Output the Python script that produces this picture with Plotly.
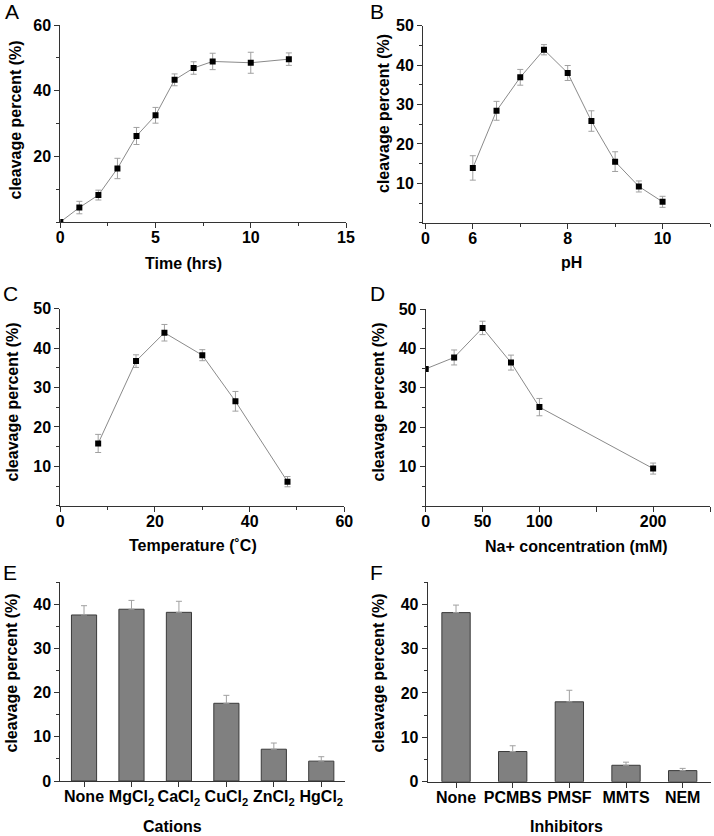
import plotly.graph_objects as go

# ---------------- data ----------------
time_hrs = [0, 1, 2, 3, 4, 5, 6, 7, 8, 10, 12]
time_val = [0, 4.4, 8.2, 16.3, 26.2, 32.5, 43.3, 46.9, 48.9, 48.5, 49.6]
time_err = [0, 1.9, 1.5, 3.1, 2.6, 2.4, 1.8, 1.9, 2.5, 3.2, 1.9]

ph = [6, 6.5, 7, 7.5, 8, 8.5, 9, 9.5, 10]
ph_val = [13.9, 28.4, 36.9, 43.9, 38.0, 25.8, 15.5, 9.2, 5.3]
ph_err = [3.1, 2.4, 2.0, 1.3, 1.9, 2.6, 2.5, 1.4, 1.4]

temp = [8, 16, 22, 30, 37, 48]
temp_val = [15.8, 36.7, 43.9, 38.2, 26.5, 6.1]
temp_err = [2.3, 1.6, 2.1, 1.4, 2.5, 1.3]

na = [0, 25, 50, 75, 100, 200]
na_val = [34.8, 37.7, 45.2, 36.4, 25.1, 9.5]
na_err = [0, 1.9, 1.7, 1.9, 2.2, 1.4]

cations = ["None", "MgCl<sub>2</sub>", "CaCl<sub>2</sub>", "CuCl<sub>2</sub>",
           "ZnCl<sub>2</sub>", "HgCl<sub>2</sub>"]
cation_val = [37.6, 38.9, 38.2, 17.6, 7.2, 4.5]
cation_err = [2.1, 2.0, 2.5, 1.8, 1.4, 1.0]

inhibitors = ["None", "PCMBS", "PMSF", "MMTS", "NEM"]
inhib_val = [38.1, 6.8, 18.0, 3.7, 2.5]
inhib_err = [1.7, 1.3, 2.6, 0.7, 0.5]

ph_tickvals = [5, 6, 8, 10]
ph_ticktext = ["0", "6", "8", "10"]
na_tickvals = [0, 50, 100, 200]
na_minor_ticks = [150, 250]

# ---------------- layout helpers ----------------
W, H = 714, 836
FONT = "Liberation Sans"
AX = "#333333"


def dx(a, b):
    return [a / W, b / W]


def dy(top, bottom):
    return [1 - bottom / H, 1 - top / H]


tickfont = dict(family=FONT, size=16, color="black", weight="bold")


def xaxis(domain, anchor, rng, **kw):
    d = dict(domain=domain, anchor=anchor, range=rng, showline=True, linecolor=AX,
             linewidth=1, ticks="outside", ticklen=5, tickwidth=1, tickcolor=AX,
             showgrid=False, zeroline=False, tickfont=tickfont, mirror=False,
             ticklabelstandoff=-4)
    d.update(kw)
    return d


def yaxis(domain, anchor, rng, dtick, minor_dtick, **kw):
    d = dict(domain=domain, anchor=anchor, range=rng, showline=True, linecolor=AX,
             linewidth=1, ticks="outside", ticklen=5, tickwidth=1, tickcolor=AX,
             showgrid=False, zeroline=False, tickfont=tickfont, dtick=dtick, tick0=0,
             minor=dict(ticks="outside", ticklen=3, tickcolor=AX, dtick=minor_dtick, tick0=0,
                        showgrid=False))
    d.update(kw)
    return d


line_style = dict(color="#8a8a8a", width=1)
marker_style = dict(symbol="square", size=6, color="black")
err_style = dict(type="data", color="#a0a0a0", thickness=1, width=3)

fig = go.Figure()


def add_line(x, y, e, xa, ya):
    fig.add_trace(go.Scatter(x=x, y=y, mode="lines+markers", line=line_style,
                             marker=marker_style,
                             error_y=dict(array=e, **err_style),
                             xaxis=xa, yaxis=ya, showlegend=False))


add_line(time_hrs, time_val, time_err, "x", "y")
add_line(ph, ph_val, ph_err, "x2", "y2")
add_line(temp, temp_val, temp_err, "x3", "y3")
add_line(na, na_val, na_err, "x4", "y4")

bar_style = dict(color="#808080", line=dict(color="#3a3a3a", width=1))
fig.add_trace(go.Bar(x=cations, y=cation_val, width=0.53, marker=bar_style,
                     error_y=dict(type="data", symmetric=False, array=cation_err,
                                  arrayminus=[0] * len(cation_err), color="#a0a0a0",
                                  thickness=1, width=3),
                     xaxis="x5", yaxis="y5", showlegend=False))
fig.add_trace(go.Bar(x=inhibitors, y=inhib_val, width=0.5, marker=bar_style,
                     error_y=dict(type="data", symmetric=False, array=inhib_err,
                                  arrayminus=[0] * len(inhib_err), color="#a0a0a0",
                                  thickness=1, width=3),
                     xaxis="x6", yaxis="y6", showlegend=False))

layout = dict(
    width=W, height=H, margin=dict(l=0, r=0, t=0, b=0, autoexpand=False),
    paper_bgcolor="white", plot_bgcolor="white", showlegend=False,
    xaxis=xaxis(dx(60.3, 346), "y", [0, 15], tickvals=[0, 5, 10, 15],
                minor=dict(ticks="outside", ticklen=3, tickcolor=AX, tickvals=[2.5, 7.5, 12.5])),
    yaxis=yaxis(dy(25, 222), "x", [0, 60], 20, 10, tickvals=[20, 40, 60]),
    xaxis2=xaxis(dx(423, 710), "y2", [4.95, 11], tickvals=ph_tickvals, ticktext=ph_ticktext,
                 minor=dict(ticks="outside", ticklen=3, tickcolor=AX, tickvals=[7, 9, 11])),
    yaxis2=yaxis(dy(25.7, 222.7), "x2", [0, 50], 10, 5, tickvals=[10, 20, 30, 40, 50]),
    xaxis3=xaxis(dx(60.3, 344.3), "y3", [0, 60], tickvals=[0, 20, 40, 60],
                 minor=dict(ticks="outside", ticklen=3, tickcolor=AX, tickvals=[10, 30, 50])),
    yaxis3=yaxis(dy(308.7, 505.7), "x3", [0, 50], 10, 5, tickvals=[10, 20, 30, 40, 50]),
    xaxis4=xaxis(dx(425.7, 710), "y4", [0, 250], tickvals=na_tickvals,
                 minor=dict(ticks="outside", ticklen=5, tickcolor=AX, tickvals=na_minor_ticks)),
    yaxis4=yaxis(dy(309, 506), "x4", [0, 50], 10, 5, tickvals=[10, 20, 30, 40, 50]),
    xaxis5=xaxis(dx(60.3, 345), "y5", [-0.5, 5.5], type="category"),
    yaxis5=yaxis(dy(582.3, 781), "x5", [0, 45], 10, 5, tickvals=[0, 10, 20, 30, 40]),
    xaxis6=xaxis(dx(427.7, 711), "y6", [-0.5, 4.5], type="category"),
    yaxis6=yaxis(dy(582, 781.7), "x6", [0, 45], 10, 5, tickvals=[0, 10, 20, 30, 40]),
)
fig.update_layout(**layout)

title_font = dict(family=FONT, size=16, color="black", weight="bold")
letter_font = dict(family=FONT, size=21, color="black")

annotations = []


def ann(text, x, y, font, angle=0, xanchor="center", yanchor="middle"):
    annotations.append(dict(text=text, x=x / W, y=1 - y / H, xref="paper", yref="paper",
                            showarrow=False, font=font, textangle=angle,
                            xanchor=xanchor, yanchor=yanchor))


# y titles
ylab = "cleavage percent (%)"
ann(ylab, 15.5, 120, title_font, -90)
ann(ylab, 384, 114, title_font, -90)
ann(ylab, 12, 402.5, title_font, -90)
ann(ylab, 378, 402.5, title_font, -90)
ann(ylab, 11, 673.5, title_font, -90)
ann(ylab, 378, 673.5, title_font, -90)
# x titles
ann("Time (hrs)", 184, 263, title_font)
ann("pH", 571.7, 262, title_font)
ann("Temperature (˚C)", 193, 545, title_font)
ann("Na+ concentration (mM)", 576.7, 546.5, title_font)
ann("Cations", 172.5, 826.5, title_font)
ann("Inhibitors", 566.7, 826, title_font)
# panel letters
ann("A", 3, 12, letter_font, xanchor="left")
ann("B", 368, 12, letter_font, xanchor="left")
ann("C", 1, 293.5, letter_font, xanchor="left")
ann("D", 368, 293.5, letter_font, xanchor="left")
ann("E", 1, 572.5, letter_font, xanchor="left")
ann("F", 368, 572.5, letter_font, xanchor="left")

fig.update_layout(annotations=annotations)
fig.write_html("out.html", config={"displayModeBar": False},
               post_script="document.body.style.margin='0';")
